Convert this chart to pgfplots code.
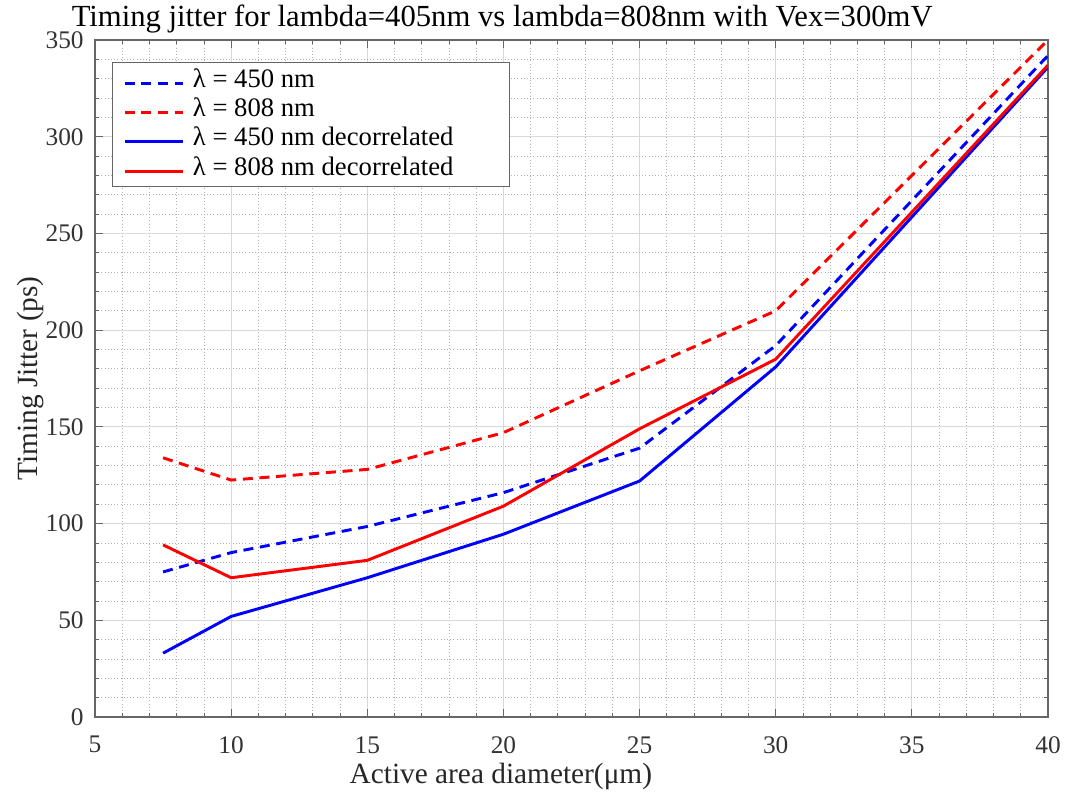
\documentclass[border=0pt]{standalone}
\usepackage{fontspec}
\setmainfont{Liberation Serif}
\usepackage{pgfplots}
\pgfplotsset{compat=1.18}
\begin{document}
\begin{tikzpicture}
\begin{axis}[
  name=ax,
  scale only axis,
  width=714.75pt, height=507.75pt,
  xmin=5, xmax=40, ymin=0, ymax=350,
  xtick={5,10,...,40}, ytick={0,50,...,350},
  minor x tick num=4, minor y tick num=4,
  grid=both,
  major grid style={color=black!15, line width=0.6pt},
  minor grid style={color=black!30, dotted, line width=0.6pt},
  axis line style={color=black!60, line width=0.9pt},
  tick style={color=black!60, line width=0.6pt},
  major tick length=6pt, minor tick length=3pt,
  tick align=inside,
  xtick pos=both, ytick pos=both,
  /pgf/number format/assume math mode=true,
  ticklabel style={font=\fontsize{19}{22}\selectfont, color=black!80},
  xticklabel style={yshift=-11pt},
  yticklabel style={xshift=-5pt},
  title={Timing jitter for lambda=405nm vs lambda=808nm with Vex=300mV},
  title style={font=\fontsize{23}{27}\selectfont, at={(axis description cs:0.5,1)}, anchor=base, yshift=4.5pt, xshift=-52pt},
  xlabel={Active area diameter(μm)},
  ylabel={Timing Jitter (ps)},
  label style={font=\fontsize{22}{26}\selectfont, color=black!85},
  xlabel style={at={(axis description cs:0.5,0)}, anchor=base, yshift=-50pt, xshift=-53pt},
  ylabel style={at={(axis description cs:0,0.5)}, anchor=center, yshift=48.75pt},
  legend style={at={(0.018,0.9675)}, anchor=north west, font=\fontsize{20}{23}\selectfont,
    draw=black!60, line width=0.8pt, inner sep=2pt, row sep=-1pt,
    nodes={inner sep=2pt, text height=14.5pt, text depth=4.5pt}},
  legend cell align=left,
  legend image code/.code={\path (0pt,0pt) (54pt,0pt); \draw[#1, line width=2.2pt] (6pt,-2pt) -- (50pt,-2pt);},
]
\addplot[blue, line width=2.2pt, dash pattern=on 7.5pt off 5pt] coordinates {
(7.5,75) (10,85) (15,98.5) (20,116) (25,139) (30,192) (40,342)};
\addlegendentry{λ = 450 nm}
\addplot[red, line width=2.2pt, dash pattern=on 7.5pt off 5pt] coordinates {
(7.5,134) (10,122.5) (15,128) (20,147) (25,179) (30,210) (40,350)};
\addlegendentry{λ = 808 nm}
\addplot[blue, line width=2.2pt] coordinates {
(7.5,33) (10,52) (15,72) (20,94.5) (25,122) (30,181) (40,336)};
\addlegendentry{λ = 450 nm decorrelated\hspace*{38pt}}
\addplot[red, line width=2.2pt] coordinates {
(7.5,89) (10,72) (15,81) (20,109) (25,149) (30,185) (40,337)};
\addlegendentry{λ = 808 nm decorrelated\hspace*{38pt}}
\end{axis}
\pgfresetboundingbox
\useasboundingbox ([xshift=-71.25pt,yshift=-57.75pt]ax.south west) rectangle ([xshift=15pt,yshift=30pt]ax.north east);
\end{tikzpicture}
\end{document}
